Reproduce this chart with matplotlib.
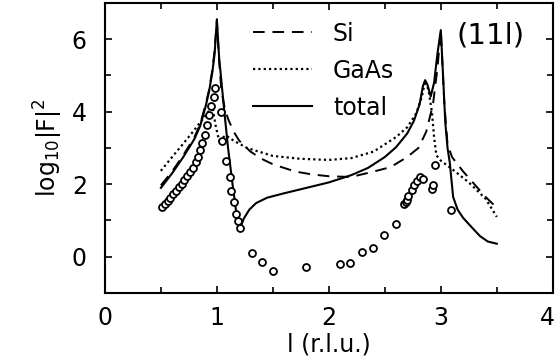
import numpy as np
import matplotlib.pyplot as plt
import matplotlib.transforms as mtransforms

# Si (dashed)
si_l = [0.5, 0.6, 0.7, 0.8, 0.85, 0.9, 0.93, 0.96, 0.98, 1.0, 1.02, 1.04, 1.07, 1.1, 1.15, 1.2,
        1.3, 1.4, 1.5, 1.7, 1.85, 2.0, 2.2, 2.4, 2.55, 2.7, 2.8, 2.87, 2.93, 2.97, 3.0,
        3.03, 3.06, 3.1, 3.2, 3.3, 3.4, 3.5]
si_f = [1.97, 2.35, 2.8, 3.3, 3.65, 4.2, 4.6, 5.15, 5.7, 6.5, 5.4, 4.6, 4.1, 3.8, 3.45, 3.2,
        2.9, 2.7, 2.55, 2.35, 2.27, 2.22, 2.2, 2.35, 2.47, 2.75, 3.0, 3.45, 4.2, 5.2, 6.25,
        4.3, 3.1, 2.75, 2.35, 2.0, 1.65, 1.35]

# GaAs (dotted)
gaas_l = [0.5, 0.6, 0.7, 0.8, 0.9, 0.96, 0.99, 1.02, 1.08, 1.15, 1.27, 1.5, 1.75, 2.0, 2.2,
          2.4, 2.5, 2.6, 2.7, 2.78, 2.83, 2.86, 2.89, 2.92, 2.94, 2.96, 3.0, 3.1, 3.25, 3.4, 3.5]
gaas_f = [2.37, 2.75, 3.12, 3.5, 3.9, 4.15, 3.6, 3.2, 3.35, 3.2, 3.0, 2.78, 2.7, 2.67, 2.72,
          2.9, 3.1, 3.3, 3.57, 3.95, 4.4, 4.85, 4.6, 4.0, 3.3, 2.8, 2.65, 2.42, 2.05, 1.6, 1.1]

# total (solid)
tot_l = [0.5, 0.6, 0.7, 0.8, 0.85, 0.9, 0.93, 0.96, 0.98, 1.0, 1.02, 1.04, 1.07, 1.1, 1.14,
         1.17, 1.2, 1.21, 1.24, 1.29, 1.35, 1.45, 1.6, 1.8, 2.0, 2.2, 2.35, 2.5, 2.6, 2.7,
         2.76, 2.81, 2.84, 2.86, 2.88, 2.91, 2.94, 2.97, 3.0, 3.02, 3.04, 3.06, 3.08, 3.11,
         3.15, 3.2, 3.28, 3.35, 3.42, 3.5]
tot_f = [1.9, 2.3, 2.75, 3.25, 3.6, 4.15, 4.55, 5.1, 5.6, 6.55, 5.5, 4.85, 3.9, 3.0, 2.0,
         1.3, 0.85, 0.8, 1.05, 1.3, 1.48, 1.63, 1.75, 1.9, 2.05, 2.25, 2.45, 2.75, 3.02, 3.4,
         3.75, 4.2, 4.7, 4.87, 4.75, 4.42, 4.8, 5.6, 6.25, 5.0, 3.7, 3.0, 2.6, 1.65,
         1.3, 1.07, 0.8, 0.57, 0.42, 0.36]

# data points (circles)
pts_l = [0.51, 0.535, 0.56, 0.585, 0.61, 0.635, 0.66, 0.685, 0.71, 0.735, 0.76, 0.785, 0.81,
         0.83, 0.85, 0.87, 0.89, 0.91, 0.93, 0.95, 0.97, 0.98,
         1.04, 1.05, 1.08, 1.115, 1.13, 1.15, 1.17, 1.19, 1.21,
         1.31, 1.40, 1.50, 1.80, 2.10, 2.19, 2.30, 2.39, 2.49, 2.60,
         2.67, 2.69, 2.70, 2.71, 2.74, 2.76, 2.79, 2.81, 2.84,
         2.92, 2.93, 2.95, 3.09]
pts_f = [1.36, 1.45, 1.54, 1.63, 1.72, 1.82, 1.92, 2.02, 2.12, 2.23, 2.34, 2.46, 2.6,
         2.76, 2.95, 3.15, 3.36, 3.62, 3.9, 4.15, 4.4, 4.66,
         3.98, 3.2, 2.65, 2.2, 1.82, 1.51, 1.18, 0.98, 0.8,
         0.11, -0.15, -0.4, -0.29, -0.21, -0.18, 0.14, 0.25, 0.6, 0.91,
         1.45, 1.5, 1.56, 1.68, 1.84, 1.99, 2.1, 2.2, 2.14,
         1.87, 1.97, 2.52, 1.29]

plt.rcParams['font.family'] = 'DejaVu Sans'
fig = plt.figure(figsize=(5.55, 3.6), dpi=100)
ax = fig.add_axes([0.189, 0.186, 0.807, 0.806])

ax.plot(si_l, si_f, color='black', lw=1.4, linestyle=(0, (6, 4)), label='Si')
ax.plot(gaas_l, gaas_f, color='black', lw=1.6, linestyle=(0, (1, 1.4)), label='GaAs')
ax.plot(tot_l, tot_f, color='black', lw=1.5, label='total')
ax.plot(pts_l, pts_f, 'o', ms=5, mfc='white', mec='black', mew=1.3, zorder=5)

ax.set_xlim(0, 4)
ax.set_ylim(-1, 7)
ax.set_xticks([0, 1, 2, 3, 4])
ax.set_xticks([0.5, 1.5, 2.5, 3.5], minor=True)
ax.set_yticks([0, 2, 4, 6])
ax.set_yticks([-1, 1, 3, 5, 7], minor=True)
ax.tick_params(which='both', direction='in', top=True, right=True, labelsize=17, width=1.2)
ax.tick_params(which='major', length=5)
ax.tick_params(axis='x', which='major', pad=9)
ax.tick_params(axis='y', which='major', pad=13)
ax.tick_params(which='minor', length=4)
for s in ax.spines.values():
    s.set_linewidth(1.5)

# last x label sits against the right edge
last = ax.get_xticklabels()[-1]
last.set_transform(last.get_transform() + mtransforms.ScaledTranslation(-5 / 100, 0, fig.dpi_scale_trans))

ax.set_xlabel('l (r.l.u.)', fontsize=17, labelpad=2)
ax.set_ylabel(r'log$_{10}$|F|$^2$', fontsize=17, labelpad=5)
ax.text(3.44, 6.1, '(11l)', fontsize=21, ha='center', va='center')

ax.legend(loc='upper left', bbox_to_anchor=(0.33, 0.935), frameon=False, fontsize=17,
          handlelength=2.5, handletextpad=0.9, labelspacing=0.55, borderpad=0, borderaxespad=0)

fig.savefig('out.png', dpi=100)
